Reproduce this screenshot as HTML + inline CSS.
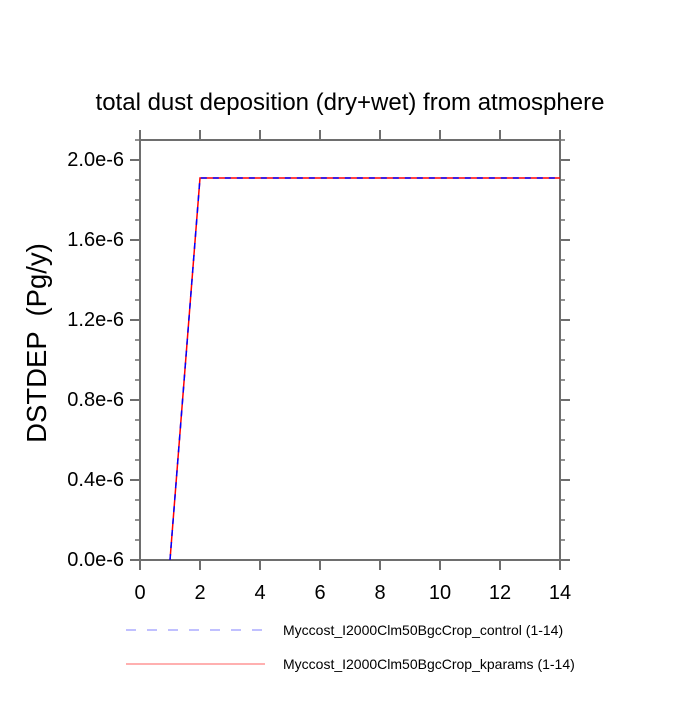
<!DOCTYPE html>
<html><head><style>body{margin:0;background:#fff}</style></head><body>
<svg width="700" height="700" xmlns="http://www.w3.org/2000/svg" font-family="Liberation Sans, sans-serif">
<rect width="700" height="700" fill="#fff"/>
<text x="350" y="110" font-size="24" text-anchor="middle">total dust deposition (dry+wet) from atmosphere</text>
<g stroke="#6e6e6e" stroke-width="2" fill="none">
<rect x="140" y="140" width="420" height="420"/>
<path d="M140 560v10M200 560v10M260 560v10M320 560v10M380 560v10M440 560v10M500 560v10M560 560v10
M140 140v-10M200 140v-10M260 140v-10M320 140v-10M380 140v-10M440 140v-10M500 140v-10M560 140v-10"/>
<path d="M140 160h-10M140 240h-10M140 320h-10M140 400h-10M140 480h-10M140 560h-10
M560 160h10M560 240h10M560 320h10M560 400h10M560 480h10M560 560h10"/>
</g>
<g stroke="#6e6e6e" stroke-width="1.5">
<path d="M140 140h-5M140 180h-5M140 200h-5M140 220h-5M140 260h-5M140 280h-5M140 300h-5M140 340h-5M140 360h-5M140 380h-5M140 420h-5M140 440h-5M140 460h-5M140 500h-5M140 520h-5M140 540h-5
M560 140h5M560 180h5M560 200h5M560 220h5M560 260h5M560 280h5M560 300h5M560 340h5M560 360h5M560 380h5M560 420h5M560 440h5M560 460h5M560 500h5M560 520h5M560 540h5"/>
</g>
<g font-size="20" text-anchor="end">
<text x="124" y="166">2.0e-6</text>
<text x="124" y="246">1.6e-6</text>
<text x="124" y="326">1.2e-6</text>
<text x="124" y="406">0.8e-6</text>
<text x="124" y="486">0.4e-6</text>
<text x="124" y="566">0.0e-6</text>
</g>
<g font-size="20" text-anchor="middle">
<text x="140" y="599">0</text><text x="200" y="599">2</text><text x="260" y="599">4</text><text x="320" y="599">6</text>
<text x="380" y="599">8</text><text x="440" y="599">10</text><text x="500" y="599">12</text><text x="560" y="599">14</text>
</g>
<text transform="translate(46,343) rotate(-90)" font-size="27.5" text-anchor="middle" xml:space="preserve">DSTDEP  (Pg/y)</text>
<polyline points="170,560 200,178 560,178" fill="none" stroke="#ff0000" stroke-width="1.5"/>
<polyline points="170,560 200,178 560,178" fill="none" stroke="#0000ff" stroke-width="1.5" stroke-dasharray="6,6"/>
<line x1="126" y1="630" x2="263" y2="630" stroke="#8080ff" stroke-width="1" stroke-dasharray="10,11"/>
<line x1="126" y1="664" x2="265" y2="664" stroke="#ff8080" stroke-width="1.2"/>
<text x="283" y="635" font-size="14">Myccost_I2000Clm50BgcCrop_control (1-14)</text>
<text x="283" y="669" font-size="14">Myccost_I2000Clm50BgcCrop_kparams (1-14)</text>
</svg>
</body></html>
